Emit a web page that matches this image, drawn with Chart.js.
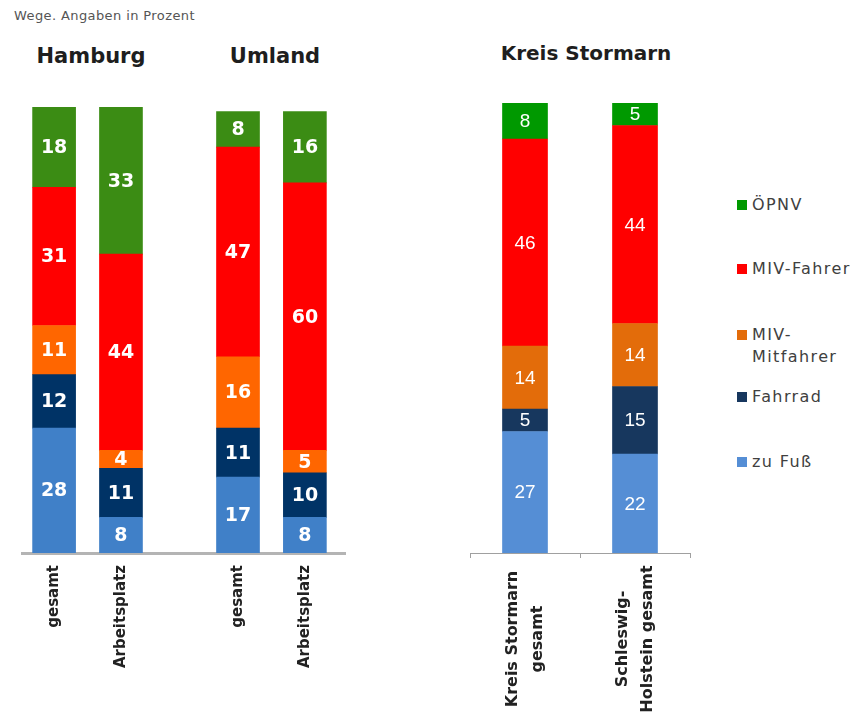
<!DOCTYPE html>
<html>
<head>
<meta charset="utf-8">
<script src="https://cdn.jsdelivr.net/npm/chart.js@4"></script>
<style>
  body { margin: 0; width: 859px; height: 716px; background: #fff; position: relative; overflow: hidden; font-family: "DejaVu Sans", sans-serif; }
  canvas { position: absolute; top: 0; }
  .txt { position: absolute; white-space: nowrap; }
  .sub { left: 14px; top: 8px; font-size: 13px; letter-spacing: 0.4px; color: #555; }
  .head { font-weight: bold; color: #1e1e1e; line-height: 1; transform: translateX(-50%); }
  .leg { position: absolute; left: 737px; font-size: 16px; letter-spacing: 1.4px; color: #404040; line-height: 22px; }
  .leg i { position: absolute; left: 0; width: 10px; height: 10px; }
  .leg span { position: absolute; left: 15px; white-space: nowrap; }
</style>
</head>
<body>
<div class="txt sub">Wege. Angaben in Prozent</div>
<div class="txt head" style="left:91px; top:46px; font-size:21px;">Hamburg</div>
<div class="txt head" style="left:275px; top:46px; font-size:21px;">Umland</div>
<div class="txt head" style="left:586px; top:43px; font-size:20px;">Kreis Stormarn</div>

<canvas id="hh" width="360" height="716" style="left:0"></canvas>
<canvas id="od" width="280" height="716" style="left:440px"></canvas>
<div id="legend"></div>

<script>
// Verkehrsmittel, von unten nach oben gestapelt
const modes = ['zu Fuß', 'Fahrrad', 'MIV-Mitfahrer', 'MIV-Fahrer', 'ÖPNV'];

// Hamburg (gesamt, Arbeitsplatz) und Umland (gesamt, Arbeitsplatz)
const hhLabels    = ['gesamt', 'Arbeitsplatz', 'gesamt', 'Arbeitsplatz'];
const hhZuFuss    = [28, 8, 17, 8];
const hhFahrrad   = [12, 11, 11, 10];
const hhMitfahrer = [11, 4, 16, 5];
const hhFahrer    = [31, 44, 47, 60];
const hhOepnv     = [18, 33, 8, 16];

// Kreis Stormarn und Schleswig-Holstein
const odLabels    = [['Kreis Stormarn', 'gesamt'], ['Schleswig-', 'Holstein gesamt']];
const odZuFuss    = [27, 22];
const odFahrrad   = [5, 15];
const odMitfahrer = [14, 14];
const odFahrer    = [46, 44];
const odOepnv     = [8, 5];

const hhColors = ['#4080c8', '#003366', '#ff6600', '#ff0000', '#3b8c14'];
const odColors = ['#558ed5', '#17375e', '#e36c0a', '#ff0000', '#009900'];

// x-Positionen der Säulen links, mit Lücke zwischen Hamburg und Umland
const hhSlots = [0, 1, 2.75, 3.75];

// Zahlen mittig in die Segmente schreiben
const segmentLabels = {
  id: 'segmentLabels',
  afterDatasetsDraw(chart, args, opts) {
    const ctx = chart.ctx;
    ctx.save();
    ctx.font = opts.font;
    ctx.fillStyle = opts.color;
    ctx.textAlign = 'center';
    ctx.textBaseline = 'middle';
    chart.data.datasets.forEach((ds, k) => {
      chart.getDatasetMeta(k).data.forEach((bar, i) => {
        const p = bar.getProps(['x', 'y', 'base'], true);
        const v = ds.data[i];
        ctx.fillText(String(typeof v === 'object' ? v.y : v), p.x, (p.y + p.base) / 2 + 1);
      });
    });
    ctx.restore();
  }
};

// gedrehte, zentrierte zweizeilige Achsenbeschriftung rechts
const rotatedTicks = {
  id: 'rotatedTicks',
  afterDraw(chart, args, opts) {
    const ctx = chart.ctx;
    const xs = chart.scales.x;
    ctx.save();
    ctx.font = opts.font;
    ctx.fillStyle = opts.color;
    ctx.textAlign = 'center';
    ctx.textBaseline = 'middle';
    odLabels.forEach((lines, i) => {
      ctx.save();
      ctx.translate(xs.getPixelForTick(i), opts.center);
      ctx.rotate(-Math.PI / 2);
      lines.forEach((line, j) => {
        ctx.fillText(line, 0, (j - (lines.length - 1) / 2) * opts.lineHeight);
      });
      ctx.restore();
    });
    ctx.restore();
  }
};

const hhSeries = [hhZuFuss, hhFahrrad, hhMitfahrer, hhFahrer, hhOepnv];
const odSeries = [odZuFuss, odFahrrad, odMitfahrer, odFahrer, odOepnv];

new Chart(document.getElementById('hh'), {
  type: 'bar',
  data: {
    datasets: hhSeries.map((vals, k) => ({
      label: modes[k],
      data: vals.map((v, i) => ({ x: hhSlots[i], y: v })),
      backgroundColor: hhColors[k],
      barThickness: 43
    }))
  },
  options: {
    responsive: false,
    animation: false,
    layout: { padding: { left: 22, right: 15, top: 107, bottom: 0 } },
    plugins: {
      legend: { display: false },
      tooltip: { enabled: false },
      segmentLabels: { font: 'bold 19px "DejaVu Sans"', color: '#fff' }
    },
    scales: {
      x: {
        type: 'linear',
        stacked: true,
        offset: false,
        min: -0.48,
        max: 4.35,
        afterBuildTicks: s => { s.ticks = hhSlots.map(v => ({ value: v })); },
        afterFit: s => { s.height = 163; },
        grid: { display: false, drawTicks: false, offset: false },
        border: { display: true, color: '#b4b4b4', width: 3 },
        ticks: {
          autoSkip: false,
          minRotation: 90,
          maxRotation: 90,
          padding: 12,
          color: '#222',
          font: { family: 'DejaVu Sans', size: 15, weight: 'bold' },
          callback: (v, i) => hhLabels[i]
        }
      },
      y: { stacked: true, display: false, min: 0, max: 100 }
    }
  },
  plugins: [segmentLabels]
});

new Chart(document.getElementById('od'), {
  type: 'bar',
  data: {
    labels: odLabels,
    datasets: odSeries.map((vals, k) => ({
      label: modes[k],
      data: vals,
      backgroundColor: odColors[k],
      barThickness: 45
    }))
  },
  options: {
    responsive: false,
    animation: false,
    layout: { padding: { left: 30, right: 30, top: 103, bottom: 0 } },
    plugins: {
      legend: { display: false },
      tooltip: { enabled: false },
      segmentLabels: { font: '19px "Liberation Sans"', color: '#fff' },
      rotatedTicks: { font: 'bold 16px "DejaVu Sans"', color: '#222', center: 639, lineHeight: 25 }
    },
    scales: {
      x: {
        stacked: true,
        offset: true,
        afterFit: s => { s.height = 163; },
        grid: { display: true, offset: true, drawOnChartArea: false, drawTicks: true, tickLength: 5, color: '#a0a0a0' },
        border: { display: true, color: '#a0a0a0', width: 1 },
        ticks: { display: false }
      },
      y: { stacked: true, display: false, min: 0, max: 100 }
    }
  },
  plugins: [segmentLabels, rotatedTicks]
});

// Legende rechts (Reihenfolge von oben nach unten)
const legendRows = [
  { text: 'ÖPNV', color: odColors[4], y: 205 },
  { text: 'MIV-Fahrer', color: odColors[3], y: 269 },
  { text: 'MIV-<br>Mitfahrer', color: odColors[2], y: 335 },
  { text: 'Fahrrad', color: odColors[1], y: 397 },
  { text: 'zu Fuß', color: odColors[0], y: 462 }
];
const legend = document.getElementById('legend');
legendRows.forEach(r => {
  const row = document.createElement('div');
  row.className = 'leg';
  row.style.top = (r.y - 11) + 'px';
  row.innerHTML = '<i style="top:6px;background:' + r.color + '"></i><span>' + r.text + '</span>';
  legend.appendChild(row);
});
</script>
</body>
</html>
